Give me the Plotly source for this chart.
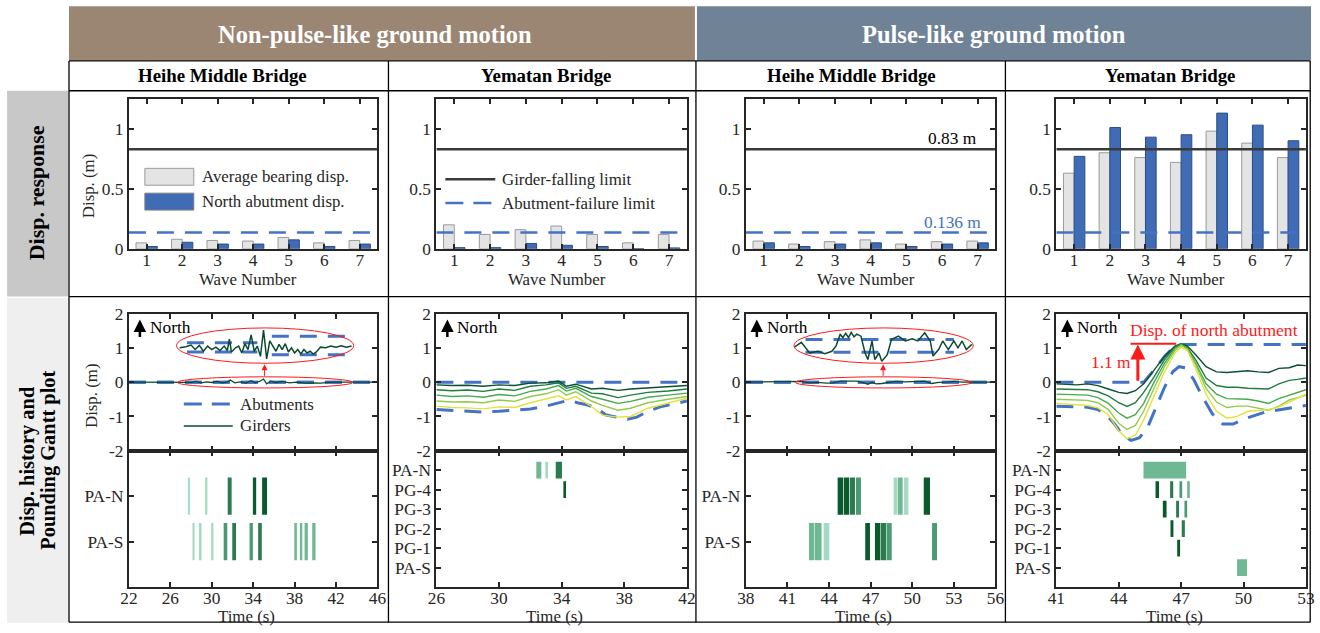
import plotly.graph_objects as go

# Figure size; the page adds the browser's 8 px body margin around it and the
# whole page is then fitted to the 1320 x 633 window.  Positions below are given
# in window pixels and mapped to paper coordinates through xp()/yp().
W, H = 1320, 633
BODY_MARGIN = 8
SX = W / (W + 2 * BODY_MARGIN)
SY = H / (H + 2 * BODY_MARGIN)
FS = 1.02  # font compensation for the page fit

SERIF = "Liberation Serif, Times New Roman, serif"
INK = "#262626"
ABUT_BLUE = "#4472c4"
LIMIT_GREY = "#3a3a3a"
RED = "#ff1a1a"
GIRDER_DARK = "#0b4a30"
GIRDER_SHADES = ["#0b4f30", "#1f7d3e", "#42ab4c", "#92cb4c", "#e2e23c"]
POUND_SHADES = ["#a3dac1", "#6fb894", "#4c9a74", "#2b7b4e", "#0a5a2c"]
TICK_SIZE = 17 * FS
TITLE_SIZE = 16.5 * FS

# ---------------- peak displacement per ground-motion record (m) ----------------
wave_numbers = [1, 2, 3, 4, 5, 6, 7]
heihe_np_bearing = [0.05, 0.08, 0.07, 0.065, 0.095, 0.05, 0.07]
heihe_np_abutment = [0.02, 0.055, 0.04, 0.04, 0.075, 0.02, 0.04]
yematan_np_bearing = [0.20, 0.12, 0.16, 0.19, 0.12, 0.05, 0.12]
yematan_np_abutment = [0.01, 0.01, 0.045, 0.03, 0.02, 0.0, 0.008]
heihe_p_bearing = [0.065, 0.04, 0.06, 0.075, 0.04, 0.06, 0.065]
heihe_p_abutment = [0.05, 0.02, 0.04, 0.05, 0.02, 0.04, 0.05]
yematan_p_bearing = [0.63, 0.80, 0.76, 0.72, 0.98, 0.88, 0.76]
yematan_p_abutment = [0.77, 1.01, 0.93, 0.95, 1.13, 1.03, 0.90]
girder_falling_limit = 0.83
abutment_failure_limit = 0.136

# ---------------- displacement histories (m) ----------------
# Heihe Middle Bridge, non-pulse-like record
heihe_np_t = [22, 24, 26, 27, 28, 28.5, 29, 29.5, 30, 30.5, 31, 31.5, 31.8, 32.2, 32.8, 33.3,
              33.8, 34.2, 34.6, 35.0, 35.3, 35.7, 36.2, 36.8, 37.5, 38.2, 39, 39.8, 40.5,
              41.5, 42.5, 43.5, 44.5, 46]
heihe_np_girder = [0, 0, 0.0, 0.01, -0.01, 0.02, -0.02, 0.01, -0.01, 0.02, -0.02, 0.01, 0.06,
                   -0.02, 0.01, -0.03, 0.04, -0.02, 0.02, 0.09, -0.05, 0.03, -0.01, 0.02, -0.02,
                   0.0, -0.03, -0.02, -0.03, 0.0, 0.01, 0.0, 0.0, 0.0]
heihe_np_abut_t = [22, 46]
heihe_np_abut = [0.0, 0.0]
# magnified view of the same record
heihe_np_zoom_t = [26.9, 27.5, 28.0, 28.4, 28.8, 29.2, 29.6, 30.0, 30.4, 30.8, 31.2, 31.5, 31.7,
                   31.9, 32.3, 32.6, 32.9, 33.2, 33.5, 33.8, 34.1, 34.4, 34.7, 35.0, 35.3, 35.6,
                   35.9, 36.2, 36.5, 36.8, 37.1, 37.4, 37.7, 38.0, 38.3, 38.6, 38.9, 39.2, 39.5,
                   39.8, 40.1, 40.5, 41.0, 41.5, 42.0, 42.5, 43.0, 43.5]
heihe_np_zoom_girder = [1.00, 1.03, 1.08, 0.95, 1.07, 0.90, 1.05, 0.95, 1.02, 0.92, 1.05, 0.92,
                        1.25, 0.88, 1.00, 1.05, 0.85, 1.12, 0.95, 1.38, 0.90, 1.05, 0.75, 1.52,
                        0.68, 1.20, 1.05, 0.90, 1.10, 0.95, 1.12, 0.88, 1.00, 0.85, 0.95, 0.82,
                        0.95, 0.85, 0.90, 0.82, 0.88, 1.02, 1.00, 1.05, 1.02, 1.06, 1.02, 1.05]
heihe_np_zoom_abut_t = [27.6, 34.4, None, 35.8, 43.2]
heihe_np_zoom_north = [1.15, 1.15, None, 1.34, 1.34]
heihe_np_zoom_south = [0.88, 0.88, None, 0.80, 0.80]

# Yematan Bridge, non-pulse-like record (girders 1-5, north to south)
yematan_np_t = [26, 27, 28, 29, 30, 31, 32, 33, 33.8, 34.3, 34.9, 35.9, 36.6, 37.6, 38.4,
                39.5, 40.8, 42]
yematan_np_g1 = [-0.08, -0.10, -0.09, -0.12, -0.08, -0.10, -0.03, -0.02, 0.03, -0.12, -0.06,
                 -0.20, -0.18, -0.24, -0.20, -0.17, -0.14, -0.10]
yematan_np_g2 = [-0.22, -0.25, -0.23, -0.27, -0.20, -0.24, -0.12, -0.08, -0.02, -0.18, -0.12,
                 -0.32, -0.34, -0.45, -0.38, -0.30, -0.26, -0.20]
yematan_np_g3 = [-0.38, -0.42, -0.40, -0.44, -0.36, -0.40, -0.27, -0.20, -0.10, -0.26, -0.18,
                 -0.42, -0.50, -0.62, -0.56, -0.44, -0.38, -0.32]
yematan_np_g4 = [-0.55, -0.58, -0.57, -0.60, -0.52, -0.56, -0.42, -0.34, -0.22, -0.38, -0.28,
                 -0.55, -0.68, -0.82, -0.76, -0.60, -0.50, -0.42]
yematan_np_g5 = [-0.70, -0.74, -0.75, -0.78, -0.72, -0.74, -0.60, -0.50, -0.40, -0.52, -0.42,
                 -0.71, -0.96, -1.02, -1.00, -0.76, -0.61, -0.47]
yematan_np_north_t = [26, 42]
yematan_np_north = [0.0, 0.0]
yematan_np_south_t = [26, 27, 28, 29, 30, 31, 32, 33, 34, 34.5, 35, 35.6, 36.2, 36.8, 37.5,
                      38.2, 38.8, 39.5, 40.3, 41.2, 42]
yematan_np_south = [-0.80, -0.83, -0.85, -0.87, -0.85, -0.82, -0.78, -0.70, -0.58, -0.52, -0.60,
                    -0.66, -0.75, -0.95, -1.02, -1.08, -1.02, -0.85, -0.72, -0.64, -0.55]

# Heihe Middle Bridge, pulse-like record
heihe_p_t = [38, 40, 41.5, 42, 42.6, 43.2, 43.8, 44.3, 44.8, 45.4, 46.0, 46.5, 46.8, 47.1, 47.4,
             47.8, 48.3, 48.8, 49.5, 50.2, 50.9, 51.4, 51.9, 52.5, 53.0, 53.6, 54.2, 55, 56]
heihe_p_girder = [0, 0, 0, 0.02, -0.02, -0.01, -0.03, -0.02, 0.03, 0.02, 0.03, -0.02, -0.06,
                  -0.01, -0.05, -0.04, -0.02, 0.02, 0.01, 0.02, 0.03, -0.04, -0.01, 0.0, 0.02,
                  0.0, 0.01, 0, 0]
heihe_p_abut_t = [38, 56]
heihe_p_abut = [0.0, 0.0]
heihe_p_zoom_t = [41.5, 42.0, 42.6, 43.2, 43.7, 44.2, 44.5, 44.8, 45.0, 45.2, 45.4, 45.6, 45.8,
                  46.0, 46.3, 46.6, 46.8, 47.1, 47.3, 47.6, 47.8, 48.2, 48.5, 49.0, 49.5, 50.0,
                  50.4, 50.9, 51.3, 51.5, 51.9, 52.2, 52.6, 53.0, 53.3, 53.6, 53.9, 54.3]
heihe_p_zoom_girder = [1.02, 1.16, 0.85, 0.90, 0.83, 0.90, 1.05, 1.39, 1.30, 1.42, 1.30, 1.45,
                       1.32, 1.40, 1.34, 0.85, 0.66, 1.20, 0.66, 0.85, 0.61, 0.80, 1.24, 1.34,
                       1.20, 1.26, 1.20, 1.44, 1.20, 0.76, 0.95, 1.20, 0.95, 1.20, 1.00, 1.20,
                       0.95, 1.10]
heihe_p_zoom_abut_t = [42.3, 53.0]
heihe_p_zoom_north = [1.24, 1.24]
heihe_p_zoom_south = [0.87, 0.87]

# Yematan Bridge, pulse-like record
yematan_p_t = [41, 42, 42.5, 43, 43.5, 44, 44.4, 44.8, 45.2, 45.7, 46.2, 46.7, 47.0, 47.3, 47.7,
               48.2, 48.7, 49.2, 49.7, 50.2, 50.7, 51.2, 51.7, 52.2, 52.6, 53]
yematan_p_g1 = [-0.05, -0.08, -0.05, -0.10, -0.20, -0.30, -0.33, -0.25, -0.05, 0.35, 0.75, 1.05,
                1.12, 1.05, 0.80, 0.45, 0.30, 0.28, 0.30, 0.33, 0.30, 0.28, 0.40, 0.42, 0.50, 0.48]
yematan_p_g2 = [-0.20, -0.20, -0.22, -0.28, -0.40, -0.60, -0.71, -0.60, -0.30, 0.15, 0.65, 1.02,
                1.12, 1.00, 0.65, 0.12, -0.10, -0.15, -0.15, -0.18, -0.20, -0.20, -0.05, 0.05,
                0.08, 0.12]
yematan_p_g3 = [-0.35, -0.36, -0.38, -0.45, -0.62, -0.90, -1.05, -0.95, -0.62, 0.0, 0.55, 0.98,
                1.10, 0.98, 0.55, -0.05, -0.35, -0.48, -0.50, -0.50, -0.55, -0.62, -0.48, -0.38,
                -0.30, -0.22]
yematan_p_g4 = [-0.50, -0.51, -0.53, -0.60, -0.80, -1.20, -1.38, -1.26, -0.85, -0.18, 0.45, 0.92,
                1.07, 0.96, 0.50, -0.18, -0.58, -0.74, -0.70, -0.70, -0.75, -0.82, -0.70, -0.52,
                -0.45, -0.38]
yematan_p_g5 = [-0.62, -0.65, -0.68, -0.75, -0.95, -1.42, -1.65, -1.55, -1.10, -0.40, 0.30, 0.85,
                1.02, 0.92, 0.40, -0.35, -0.85, -1.05, -1.00, -0.85, -0.82, -0.80, -0.72, -0.58,
                -0.45, -0.35]
yematan_p_north_t = [41, 45.2, 45.7, 46.2, 46.7, 47.1, 53]
yematan_p_north = [0.0, 0.0, 0.35, 0.75, 1.05, 1.10, 1.10]
yematan_p_south_t = [41, 42, 42.5, 43, 43.4, 43.8, 44.2, 44.6, 45.0, 45.4, 45.8, 46.2, 46.6, 46.9,
                     47.2, 47.6, 48.0, 48.5, 49.0, 49.5, 50.0, 50.5, 51.0, 51.5, 52.0, 52.5, 53]
yematan_p_south = [-0.70, -0.72, -0.73, -0.80, -0.95, -1.22, -1.55, -1.70, -1.62, -1.30, -0.75,
                   -0.15, 0.30, 0.45, 0.42, 0.08, -0.40, -0.92, -1.22, -1.22, -1.08, -0.98, -0.88,
                   -0.83, -0.78, -0.72, -0.68]
north_abutment_peak = 1.1

# ---------------- pounding events (row, start s, end s, intensity level) ----------------
rows_abutments = ["PA-N", "PA-S"]
rows_all = ["PA-N", "PG-4", "PG-3", "PG-2", "PG-1", "PA-S"]

heihe_np_pound_row = ["PA-N"] * 5 + ["PA-S"] * 11
heihe_np_pound_start = [27.70, 29.36, 31.54, 33.97, 34.86,
                        28.14, 28.82, 29.94, 31.15, 31.98, 33.65, 34.48, 37.97, 38.51, 38.96, 39.70]
heihe_np_pound_end = [27.86, 29.58, 31.92, 34.29, 35.34,
                      28.34, 29.01, 30.16, 31.50, 32.34, 33.97, 34.83, 38.22, 38.74, 39.28, 40.02]
heihe_np_pound_level = [0, 0, 3, 4, 4, 0, 0, 0, 2, 3, 2, 3, 1, 1, 1, 1]

yematan_np_pound_row = ["PA-N", "PA-N", "PA-N", "PG-4"]
yematan_np_pound_start = [32.38, 32.96, 33.62, 34.17]
yematan_np_pound_end = [32.70, 33.13, 34.02, 34.28]
yematan_np_pound_level = [1, 0, 3, 4]

heihe_p_pound_row = ["PA-N"] * 8 + ["PA-S"] * 8
heihe_p_pound_start = [44.62, 45.07, 45.49, 45.94, 48.66, 48.95, 49.41, 50.83,
                       42.55, 42.98, 43.61, 46.61, 47.31, 47.74, 48.15, 51.43]
heihe_p_pound_end = [45.02, 45.44, 45.87, 46.30, 48.90, 49.31, 49.72, 51.28,
                     42.94, 43.46, 44.02, 46.95, 47.70, 48.11, 48.52, 51.79]
heihe_p_pound_level = [4, 4, 3, 2, 0, 1, 0, 4, 1, 1, 0, 4, 4, 3, 2, 2]

yematan_p_pound_row = ["PA-N", "PG-4", "PG-4", "PG-4", "PG-4", "PG-3", "PG-3", "PG-3",
                       "PG-2", "PG-2", "PG-1", "PA-S"]
yematan_p_pound_start = [45.19, 45.77, 46.47, 46.92, 47.29, 46.12, 46.76, 47.16,
                         46.49, 47.03, 46.81, 49.69]
yematan_p_pound_end = [47.24, 45.94, 46.62, 47.05, 47.42, 46.30, 46.90, 47.29,
                       46.63, 47.18, 46.95, 50.17]
yematan_p_pound_level = [1, 4, 3, 2, 1, 4, 3, 2, 4, 3, 4, 1]

# ---------------- panel layout (window pixels) ----------------
col_px = [(128, 377), (436, 687), (746, 996), (1057, 1307)]
bar_py = (98, 249)
disp_py = (314, 452)
gantt_py = (452, 589)
TABLE_RIGHT = (W + BODY_MARGIN - 0.8) * SX
TABLE_BOTTOM = (H + BODY_MARGIN - 0.8) * SY
WAVE_TITLE_Y, TIME_TITLE_Y = 280, 618.5
XTICK_STANDOFF = -6


def xp(px):
    return (px / SX - BODY_MARGIN) / W


def yp(py):
    return 1 - (py / SY - BODY_MARGIN) / H


columns = [
    dict(title="Heihe Middle Bridge", title_x=222,
         bearing=heihe_np_bearing, abutment=heihe_np_abutment,
         trange=[22, 46], tticks=list(range(22, 47, 4)),
         girders=[(heihe_np_t, heihe_np_girder)],
         north=(heihe_np_abut_t, heihe_np_abut), south=(heihe_np_abut_t, heihe_np_abut),
         zoom=(heihe_np_zoom_t, heihe_np_zoom_girder, heihe_np_zoom_abut_t,
               heihe_np_zoom_north, heihe_np_zoom_south),
         rows=rows_abutments,
         pound=(heihe_np_pound_row, heihe_np_pound_start, heihe_np_pound_end,
                heihe_np_pound_level)),
    dict(title="Yematan Bridge", title_x=546,
         bearing=yematan_np_bearing, abutment=yematan_np_abutment,
         trange=[26, 42], tticks=list(range(26, 43, 4)),
         girders=[(yematan_np_t, g) for g in (yematan_np_g1, yematan_np_g2, yematan_np_g3,
                                              yematan_np_g4, yematan_np_g5)],
         north=(yematan_np_north_t, yematan_np_north),
         south=(yematan_np_south_t, yematan_np_south),
         zoom=None, rows=rows_all,
         pound=(yematan_np_pound_row, yematan_np_pound_start, yematan_np_pound_end,
                yematan_np_pound_level)),
    dict(title="Heihe Middle Bridge", title_x=852,
         bearing=heihe_p_bearing, abutment=heihe_p_abutment,
         trange=[38, 56], tticks=list(range(38, 57, 3)),
         girders=[(heihe_p_t, heihe_p_girder)],
         north=(heihe_p_abut_t, heihe_p_abut), south=(heihe_p_abut_t, heihe_p_abut),
         zoom=(heihe_p_zoom_t, heihe_p_zoom_girder, heihe_p_zoom_abut_t,
               heihe_p_zoom_north, heihe_p_zoom_south),
         rows=rows_abutments,
         pound=(heihe_p_pound_row, heihe_p_pound_start, heihe_p_pound_end,
                heihe_p_pound_level)),
    dict(title="Yematan Bridge", title_x=1171,
         bearing=yematan_p_bearing, abutment=yematan_p_abutment,
         trange=[41, 53], tticks=list(range(41, 54, 3)),
         girders=[(yematan_p_t, g) for g in (yematan_p_g1, yematan_p_g2, yematan_p_g3,
                                             yematan_p_g4, yematan_p_g5)],
         north=(yematan_p_north_t, yematan_p_north),
         south=(yematan_p_south_t, yematan_p_south),
         zoom=None, rows=rows_all,
         pound=(yematan_p_pound_row, yematan_p_pound_start, yematan_p_pound_end,
                yematan_p_pound_level)),
]

fig = go.Figure()
layout = dict(
    width=W, height=H, margin=dict(l=0, r=0, t=0, b=0),
    paper_bgcolor="white", plot_bgcolor="rgba(0,0,0,0)",
    showlegend=False, barmode="overlay",
    font=dict(family=SERIF, size=TITLE_SIZE, color=INK),
)
axis_style = dict(
    showline=True, linecolor=INK, linewidth=2, mirror="ticks",
    ticks="inside", ticklen=5, tickwidth=1.5, tickcolor=INK,
    showgrid=False, zeroline=False,
    tickfont=dict(family=SERIF, size=TICK_SIZE, color=INK),
)
shapes = []
annotations = []


def axid(n):
    return "" if n == 1 else str(n)


def axis_label(text, px, py, angle=0):
    annotations.append(dict(text=text, x=xp(px), y=yp(py), xref="paper", yref="paper",
                            showarrow=False, textangle=angle,
                            font=dict(family=SERIF, size=TITLE_SIZE, color=INK)))


dash_abut = "17px,11px"

for c, col in enumerate(columns):
    nb, nd, ng = 3 * c + 1, 3 * c + 2, 3 * c + 3
    dom_x = [xp(col_px[c][0]), xp(col_px[c][1])]
    mid_px = 0.5 * (col_px[c][0] + col_px[c][1])

    # --- bar chart of peak displacements ---
    xb, yb = "x" + axid(nb), "y" + axid(nb)
    layout["xaxis" + axid(nb)] = dict(
        axis_style, domain=dom_x, anchor=yb, range=[0.5, 7.5], tickvals=wave_numbers,
        ticklabelstandoff=XTICK_STANDOFF)
    layout["yaxis" + axid(nb)] = dict(
        axis_style, domain=[yp(bar_py[1]), yp(bar_py[0])], anchor=xb, range=[0, 1.25],
        tickvals=[0, 0.5, 1], ticktext=["0", "0.5", "1"])
    axis_label("Wave Number", mid_px - 5, WAVE_TITLE_Y)
    fig.add_trace(go.Bar(x=wave_numbers, y=col["bearing"], width=0.3, offset=-0.3,
                         marker=dict(color="#e4e4e4", line=dict(color="#9a9a9a", width=1)),
                         xaxis=xb, yaxis=yb, hoverinfo="skip"))
    fig.add_trace(go.Bar(x=wave_numbers, y=col["abutment"], width=0.3, offset=0.0,
                         marker=dict(color="#3f6cb4", line=dict(color="#2b4d88", width=1)),
                         xaxis=xb, yaxis=yb, hoverinfo="skip"))
    fig.add_trace(go.Scatter(x=[0.5, 7.5], y=[girder_falling_limit] * 2, mode="lines",
                             line=dict(color=LIMIT_GREY, width=2.5), xaxis=xb, yaxis=yb,
                             hoverinfo="skip"))
    fig.add_trace(go.Scatter(x=[0.5, 7.5], y=[abutment_failure_limit] * 2, mode="lines",
                             line=dict(color=ABUT_BLUE, width=2.5, dash=dash_abut),
                             xaxis=xb, yaxis=yb, hoverinfo="skip"))

    # --- displacement history ---
    xd, yd = "x" + axid(nd), "y" + axid(nd)
    layout["xaxis" + axid(nd)] = dict(
        axis_style, domain=dom_x, anchor=yd, range=col["trange"], tickvals=col["tticks"],
        showticklabels=False)
    layout["yaxis" + axid(nd)] = dict(
        axis_style, domain=[yp(disp_py[1]), yp(disp_py[0])], anchor=xd, range=[-2, 2],
        tickvals=[2, 1, 0, -1, -2], ticktext=["2", "1", "0", "-1", "-2"])
    for tt, yy in (col["north"], col["south"]):
        fig.add_trace(go.Scatter(x=tt, y=yy, mode="lines",
                                 line=dict(color=ABUT_BLUE, width=3, dash=dash_abut),
                                 xaxis=xd, yaxis=yd, hoverinfo="skip"))
    if len(col["girders"]) == 1:
        tt, yy = col["girders"][0]
        fig.add_trace(go.Scatter(x=tt, y=yy, mode="lines",
                                 line=dict(color=GIRDER_DARK, width=1.3),
                                 xaxis=xd, yaxis=yd, hoverinfo="skip"))
    else:
        for k, (tt, yy) in enumerate(col["girders"]):
            fig.add_trace(go.Scatter(x=tt, y=yy, mode="lines",
                                     line=dict(color=GIRDER_SHADES[k], width=1.4),
                                     xaxis=xd, yaxis=yd, hoverinfo="skip"))
    if col["zoom"] is not None:
        zt, zg, zat, zn, zs = col["zoom"]
        for yy in (zn, zs):
            fig.add_trace(go.Scatter(x=zat, y=yy, mode="lines", connectgaps=False,
                                     line=dict(color=ABUT_BLUE, width=3, dash=dash_abut),
                                     xaxis=xd, yaxis=yd, hoverinfo="skip"))
        fig.add_trace(go.Scatter(x=zt, y=zg, mode="lines",
                                 line=dict(color=GIRDER_DARK, width=1.5),
                                 xaxis=xd, yaxis=yd, hoverinfo="skip"))

    # --- pounding Gantt chart ---
    xg, yg = "x" + axid(ng), "y" + axid(ng)
    nrows = len(col["rows"])
    layout["xaxis" + axid(ng)] = dict(
        axis_style, domain=dom_x, anchor=yg, range=col["trange"], tickvals=col["tticks"],
        ticklabelstandoff=XTICK_STANDOFF)
    layout["yaxis" + axid(ng)] = dict(
        axis_style, domain=[yp(gantt_py[1]), yp(gantt_py[0])], anchor=xg,
        range=[nrows + 1, 0], tickvals=list(range(1, nrows + 1)), ticktext=col["rows"])
    axis_label("Time (s)", mid_px - 7, TIME_TITLE_Y)
    prow, pstart, pend, plevel = col["pound"]
    fig.add_trace(go.Bar(
        orientation="h",
        y=[col["rows"].index(r) + 1 for r in prow],
        base=pstart,
        x=[e - s for s, e in zip(pstart, pend)],
        width=0.82 if nrows == 2 else 0.86,
        marker=dict(color=[POUND_SHADES[v] for v in plevel], line=dict(width=0)),
        xaxis=xg, yaxis=yg, hoverinfo="skip"))

    # column heading
    annotations.append(dict(text="<b>%s</b>" % col["title"], x=xp(col["title_x"]), y=yp(75),
                            xref="paper", yref="paper", showarrow=False,
                            font=dict(family=SERIF, size=18.5 * FS, color="black")))
    # north marker
    ax_px = col_px[c][0] + 11
    annotations.append(dict(x=xp(ax_px), y=yp(320), xref="paper", yref="paper",
                            ax=0, ay=19, text="", showarrow=True, arrowhead=2,
                            arrowsize=1.0, arrowwidth=2.5, arrowcolor="black"))
    annotations.append(dict(text="North", x=xp(ax_px + 8), y=yp(328), xref="paper",
                            yref="paper", xanchor="left", showarrow=False,
                            font=dict(family=SERIF, size=17 * FS, color="black")))

# y-axis titles of the first column
axis_label("Disp. (m)", 87, 185, angle=-90)
axis_label("Disp. (m)", 90, 396, angle=-90)

# --- magnified-view call-outs (ellipses and arrows) ---
for xd, yd, (ex0, ex1), tarrow in (("x2", "y2", (26.6, 43.7), 35.1),
                                   ("x8", "y8", (41.47, 54.4), 47.9)):
    shapes.append(dict(type="circle", xref=xd, yref=yd, x0=ex0, x1=ex1, y0=0.55, y1=1.58,
                       line=dict(color=RED, width=1)))
    shapes.append(dict(type="circle", xref=xd, yref=yd, x0=ex0 + 0.1, x1=ex1 - 0.1,
                       y0=-0.17, y1=0.155, line=dict(color=RED, width=1)))
    annotations.append(dict(x=tarrow, y=0.52, ax=tarrow, ay=0.14, xref=xd, yref=yd,
                            axref=xd, ayref=yd, text="", showarrow=True, arrowhead=2,
                            arrowsize=1.2, arrowwidth=1, arrowcolor=RED))

# --- north abutment displacement marker on the Yematan pulse-like history ---
shapes.append(dict(type="line", xref="x11", yref="y11", x0=44.57, x1=46.76,
                   y0=north_abutment_peak + 0.02, y1=north_abutment_peak + 0.02,
                   line=dict(color=RED, width=2)))
annotations.append(dict(x=44.92, y=north_abutment_peak, ax=44.92, ay=0.0, xref="x11",
                        yref="y11", axref="x11", ayref="y11", text="", showarrow=True,
                        arrowhead=2, arrowsize=1.0, arrowwidth=3, arrowcolor=RED))
annotations.append(dict(text="%.1f m" % north_abutment_peak, x=43.64, y=0.57, xref="x11",
                        yref="y11", showarrow=False,
                        font=dict(family=SERIF, size=17 * FS, color=RED)))
annotations.append(dict(text="Disp. of north abutment", x=48.6, y=1.53, xref="x11",
                        yref="y11", showarrow=False,
                        font=dict(family=SERIF, size=17.2 * FS, color=RED)))

# --- limit values on the Heihe pulse-like bar chart ---
annotations.append(dict(text="%.2f m" % girder_falling_limit, x=6.3, y=girder_falling_limit,
                        xref="x7", yref="y7", yanchor="bottom", showarrow=False, yshift=-1,
                        font=dict(family=SERIF, size=17 * FS, color="black")))
annotations.append(dict(text="%.3f m" % abutment_failure_limit, x=6.3,
                        y=abutment_failure_limit, xref="x7", yref="y7", yanchor="bottom",
                        showarrow=False, yshift=-1,
                        font=dict(family=SERIF, size=17 * FS, color=ABUT_BLUE)))

# --- hand-placed legends ---
LEGEND_SIZE = 16.5 * FS
shapes.append(dict(type="rect", xref="paper", yref="paper", x0=xp(144), x1=xp(193),
                   y0=yp(185), y1=yp(168), fillcolor="#e4e4e4",
                   line=dict(color="#9a9a9a", width=1)))
shapes.append(dict(type="rect", xref="paper", yref="paper", x0=xp(144), x1=xp(193),
                   y0=yp(210), y1=yp(193), fillcolor="#3f6cb4",
                   line=dict(color="#7f7f7f", width=1)))
for label, py in (("Average bearing disp.", 176.5), ("North abutment disp.", 201)):
    annotations.append(dict(text=label, x=xp(199), y=yp(py), xref="paper", yref="paper",
                            xanchor="left", showarrow=False,
                            font=dict(family=SERIF, size=LEGEND_SIZE, color=INK)))

shapes.append(dict(type="line", xref="paper", yref="paper", x0=xp(445), x1=xp(495),
                   y0=yp(179), y1=yp(179), line=dict(color=LIMIT_GREY, width=2.5)))
shapes.append(dict(type="line", xref="paper", yref="paper", x0=xp(445), x1=xp(495),
                   y0=yp(203), y1=yp(203), line=dict(color=ABUT_BLUE, width=2.5,
                                                     dash="18px,10px")))
for label, py in (("Girder-falling limit", 179), ("Abutment-failure limit", 203)):
    annotations.append(dict(text=label, x=xp(500), y=yp(py), xref="paper", yref="paper",
                            xanchor="left", showarrow=False,
                            font=dict(family=SERIF, size=LEGEND_SIZE, color=INK)))

shapes.append(dict(type="line", xref="paper", yref="paper", x0=xp(183), x1=xp(232),
                   y0=yp(405), y1=yp(405), line=dict(color=ABUT_BLUE, width=3,
                                                     dash="18px,10px")))
shapes.append(dict(type="line", xref="paper", yref="paper", x0=xp(183), x1=xp(232),
                   y0=yp(427), y1=yp(427), line=dict(color=GIRDER_DARK, width=1.5)))
for label, py in (("Abutments", 405), ("Girders", 427)):
    annotations.append(dict(text=label, x=xp(237), y=yp(py), xref="paper", yref="paper",
                            xanchor="left", showarrow=False,
                            font=dict(family=SERIF, size=LEGEND_SIZE, color=INK)))

# --- table frame, group headers and row labels ---
shapes.append(dict(type="rect", xref="paper", yref="paper", x0=xp(68), x1=xp(695),
                   y0=yp(59.5), y1=yp(5), fillcolor="#9b8573", line=dict(width=0),
                   layer="below"))
shapes.append(dict(type="rect", xref="paper", yref="paper", x0=xp(697), x1=1,
                   y0=yp(59.5), y1=yp(5), fillcolor="#6f8296", line=dict(width=0),
                   layer="below"))
shapes.append(dict(type="rect", xref="paper", yref="paper", x0=xp(6), x1=xp(67),
                   y0=yp(297), y1=yp(90), fillcolor="#c8c8c8", line=dict(width=0),
                   layer="below"))
shapes.append(dict(type="rect", xref="paper", yref="paper", x0=xp(6), x1=xp(67),
                   y0=0, y1=yp(298.5), fillcolor="#efefef", line=dict(width=0),
                   layer="below"))
frame = dict(color="black", width=1.3)
for py in (60, 90, 297, TABLE_BOTTOM):
    shapes.append(dict(type="line", xref="paper", yref="paper", x0=xp(68), x1=xp(TABLE_RIGHT),
                       y0=yp(py), y1=yp(py), line=frame))
for px in (68, 388, 696, 1006, TABLE_RIGHT):
    shapes.append(dict(type="line", xref="paper", yref="paper", x0=xp(px), x1=xp(px),
                       y0=yp(60), y1=yp(TABLE_BOTTOM), line=frame))

annotations.append(dict(text="<b>Non-pulse-like ground motion</b>", x=xp(375), y=yp(33),
                        xref="paper", yref="paper", showarrow=False,
                        font=dict(family=SERIF, size=24 * FS, color="white")))
annotations.append(dict(text="<b>Pulse-like ground motion</b>", x=xp(995), y=yp(33),
                        xref="paper", yref="paper", showarrow=False,
                        font=dict(family=SERIF, size=24 * FS, color="white")))
annotations.append(dict(text="<b>Disp. response</b>", x=xp(35), y=yp(193), xref="paper",
                        yref="paper", showarrow=False, textangle=-90,
                        font=dict(family=SERIF, size=21.5 * FS, color="black")))
for text, px in (("Disp. history and", 27), ("Pounding Gantt plot", 48)):
    annotations.append(dict(text="<b>%s</b>" % text, x=xp(px), y=yp(462), xref="paper",
                            yref="paper", showarrow=False, textangle=-90,
                            font=dict(family=SERIF, size=20 * FS, color="black")))

# paper-anchored texts are centred on their point unless stated otherwise
for a in annotations:
    a.setdefault("xanchor", "center")
    a.setdefault("yanchor", "middle")

layout["shapes"] = shapes
layout["annotations"] = annotations
fig.update_layout(**layout)
fig.write_html("out.html")
